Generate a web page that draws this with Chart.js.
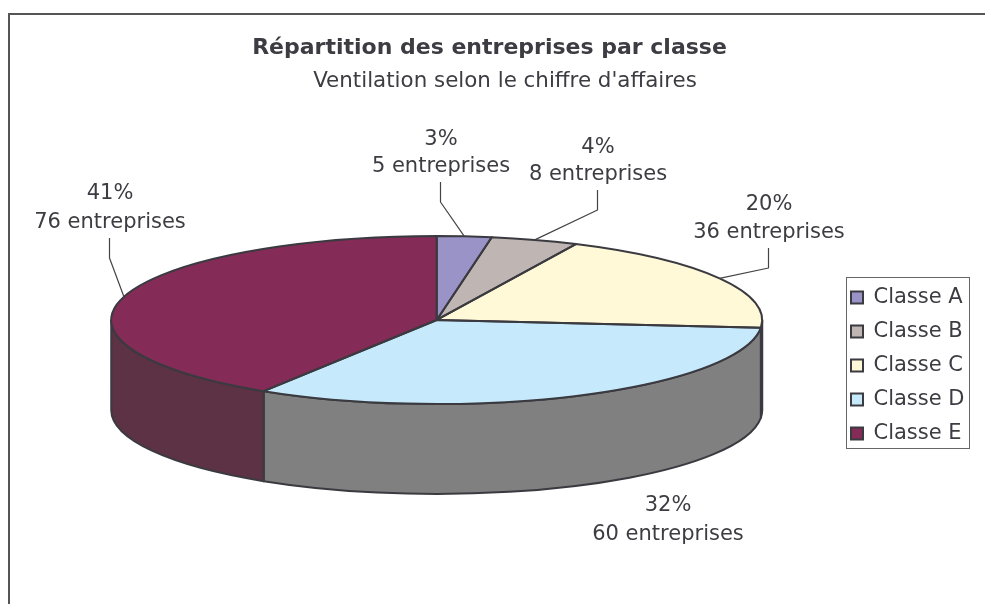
<!DOCTYPE html>
<html>
<head>
<meta charset="utf-8">
<title>Répartition des entreprises par classe</title>
<script src="https://cdn.jsdelivr.net/npm/chart.js@4"></script>
<style>
  html, body { margin: 0; padding: 0; background: #fff; }
  canvas { display: block; }
</style>
</head>
<body>
<canvas id="pieChart" width="985" height="604"></canvas>
<script>
// Data
const categories = ['Classe A', 'Classe B', 'Classe C', 'Classe D', 'Classe E'];
const entreprises = [5, 8, 36, 60, 76];
const pourcentages = ['3%', '4%', '20%', '32%', '41%'];

// Styles
const topColors = ['#9a93c8', '#bfb6b3', '#fff9d8', '#c6eafb', '#842c57'];
const sideColors = ['#4d4a64', '#605b5a', '#80806c', '#808080', '#5c3244'];
const textColor = '#3c3c42';
const lineColor = '#3a3a40';
const fontFamily = '"DejaVu Sans", Verdana, sans-serif';

// Pie is a flat circle stretched sideways, then given a wall below it
const radiusY = 84;
const stretchX = 325.5 / 84;
const depth = 90;

// Label centres [x, y of first line, y of second line], no leader for Classe D
const labelSpots = [[441, 139.5, 166.5], [598, 147.5, 174.5], [769, 204.5, 232.5], [668, 505.5, 534.5], [110, 193.5, 222.5]];
const hasLeader = [true, true, true, false, true];

function ellipsePath(ctx, el, a, b, dy, back) {
  ctx.ellipse(el.x, el.y + dy, el.outerRadius * stretchX, el.outerRadius, 0, a, b, back);
}

const pie3d = {
  id: 'pie3d',
  afterLayout(chart) {
    // centre the two title lines where the original has them
    chart.boxes.forEach(box => {
      if (box.options && box.options.text === 'Répartition des entreprises par classe') {
        box.left -= 15.5; box.right -= 15.5;
      }
    });
  },
  beforeDraw(chart) {
    const ctx = chart.ctx;
    ctx.save();
    ctx.fillStyle = '#fff';
    ctx.fillRect(0, 0, chart.width, chart.height);
    ctx.strokeStyle = '#555';
    ctx.lineWidth = 2;
    ctx.strokeRect(9, 14, chart.width + 20, chart.height + 20);

    // legend frame
    const hits = chart.legend.legendHitBoxes;
    const left = hits[0].left - 4.5;
    const top = hits[0].top - 10.5;
    const bottom = hits[hits.length - 1].top + hits[hits.length - 1].height + 3.5;
    ctx.strokeStyle = '#666';
    ctx.lineWidth = 1;
    ctx.strokeRect(Math.round(left) + 0.5, Math.round(top) + 0.5, 123, Math.round(bottom - top));
    ctx.restore();
  },
  beforeDatasetsDraw(chart) {
    const ctx = chart.ctx;
    const arcs = chart.getDatasetMeta(0).data;
    ctx.save();
    ctx.strokeStyle = lineColor;
    ctx.lineWidth = 2;
    ctx.lineJoin = 'round';
    arcs.forEach((el, i) => {
      // only the front half of the pie shows its wall
      if (el.endAngle <= 0 || el.startAngle >= Math.PI) return;
      const a = Math.max(el.startAngle, 0);
      const b = Math.min(el.endAngle, Math.PI);
      ctx.beginPath();
      ellipsePath(ctx, el, a, b, 0, false);
      ellipsePath(ctx, el, b, a, depth, true);
      ctx.closePath();
      ctx.fillStyle = sideColors[i];
      ctx.fill();
      ctx.stroke();
    });
    ctx.restore();

    // the library draws its arcs inside this stretched space
    const c = arcs[0];
    ctx.save();
    ctx.translate(c.x, c.y);
    ctx.scale(stretchX, 1);
    ctx.translate(-c.x, -c.y);
  },
  afterDatasetsDraw(chart) {
    const ctx = chart.ctx;
    ctx.restore();
    const arcs = chart.getDatasetMeta(0).data;
    ctx.save();
    ctx.strokeStyle = lineColor;
    ctx.lineWidth = 2;
    ctx.lineJoin = 'round';
    arcs.forEach(el => {
      ctx.beginPath();
      ctx.moveTo(el.x, el.y);
      ellipsePath(ctx, el, el.startAngle, el.endAngle, 0, false);
      ctx.closePath();
      ctx.stroke();
    });

    // data labels and their leader lines
    ctx.font = '21px ' + fontFamily;
    ctx.fillStyle = textColor;
    ctx.textAlign = 'center';
    ctx.textBaseline = 'middle';
    arcs.forEach((el, i) => {
      const [x, y1, y2] = labelSpots[i];
      ctx.fillText(pourcentages[i], x, y1);
      ctx.fillText(entreprises[i] + ' entreprises', x, y2);
      if (!hasLeader[i]) return;
      const mid = (el.startAngle + el.endAngle) / 2;
      ctx.beginPath();
      ctx.strokeStyle = '#444';
      ctx.lineWidth = 1.2;
      ctx.moveTo(x - 0.5, y2 + 15.5);
      ctx.lineTo(x - 0.5, y2 + 35.5);
      ctx.lineTo(el.x + Math.cos(mid) * el.outerRadius * stretchX, el.y + Math.sin(mid) * el.outerRadius);
      ctx.stroke();
    });
    ctx.restore();
  }
};

new Chart(document.getElementById('pieChart'), {
  type: 'pie',
  data: {
    labels: categories,
    datasets: [{
      data: entreprises,
      backgroundColor: topColors,
      borderWidth: 0
    }]
  },
  options: {
    responsive: false,
    animation: false,
    radius: radiusY,
    layout: { padding: { left: 35.5, right: 10.5, top: 0, bottom: 147 } },
    plugins: {
      tooltip: { enabled: false },
      title: {
        display: true,
        text: 'Répartition des entreprises par classe',
        color: textColor,
        font: { family: fontFamily, size: 22, weight: 'bold' },
        padding: { top: 34.8, bottom: 0 }
      },
      subtitle: {
        display: true,
        text: "Ventilation selon le chiffre d'affaires",
        color: textColor,
        font: { family: fontFamily, size: 21.4, weight: 'normal' },
        padding: { top: 7, bottom: 89.1 }
      },
      legend: {
        position: 'right',
        align: 'end',
        labels: {
          color: textColor,
          font: { family: fontFamily, size: 21 },
          boxWidth: 12,
          boxHeight: 12,
          padding: 13,
          generateLabels(chart) {
            return Chart.overrides.pie.plugins.legend.labels.generateLabels(chart).map(item => {
              item.strokeStyle = lineColor;
              item.lineWidth = 2;
              return item;
            });
          }
        }
      }
    }
  },
  plugins: [pie3d]
});
</script>
</body>
</html>
